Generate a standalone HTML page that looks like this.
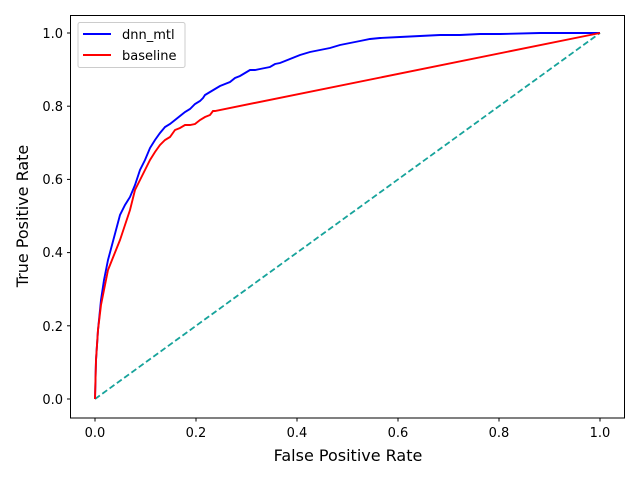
<!DOCTYPE html>
<html><head><style>body{margin:0;background:#fff}svg{display:block}text{font-family:"DejaVu Sans","Liberation Sans",sans-serif;fill:#000}</style></head><body>
<svg width="640" height="480" viewBox="0 0 640 480">
<g stroke="#000" stroke-width="1">
<line x1="95" y1="418" x2="95" y2="421.5"/><line x1="196" y1="418" x2="196" y2="421.5"/><line x1="297" y1="418" x2="297" y2="421.5"/><line x1="398" y1="418" x2="398" y2="421.5"/><line x1="499" y1="418" x2="499" y2="421.5"/><line x1="600" y1="418" x2="600" y2="421.5"/>
<line x1="67" y1="399" x2="70.5" y2="399"/><line x1="67" y1="325.8" x2="70.5" y2="325.8"/><line x1="67" y1="252.6" x2="70.5" y2="252.6"/><line x1="67" y1="179.4" x2="70.5" y2="179.4"/><line x1="67" y1="106.2" x2="70.5" y2="106.2"/><line x1="67" y1="33" x2="70.5" y2="33"/>
</g>
<g font-size="13" text-anchor="middle">
<text x="95" y="437">0.0</text><text x="196" y="437">0.2</text><text x="297" y="437">0.4</text><text x="398" y="437">0.6</text><text x="499" y="437">0.8</text><text x="600" y="437">1.0</text>
</g>
<g font-size="13" text-anchor="end">
<text x="63" y="404">0.0</text><text x="63" y="331">0.2</text><text x="63" y="257">0.4</text><text x="63" y="184">0.6</text><text x="63" y="111">0.8</text><text x="63" y="38">1.0</text>
</g>
<text x="348" y="461" font-size="16" text-anchor="middle">False Positive Rate</text>
<text transform="translate(28,216) rotate(-90)" font-size="16" text-anchor="middle">True Positive Rate</text>
<line x1="95" y1="399" x2="600" y2="33" stroke="#17a39b" stroke-width="1.8" stroke-dasharray="6,3"/>
<polyline fill="none" stroke="#0000ff" stroke-width="1.9" points="95,399 96,360 98,330 101,300 104,280 108,260 112,245 116,230 120,215 125,205 130,197 135,185 140,170 145,160 150,148 155,140 160,133 165,127 170,124 175,120 180,116 185,112 190,109 195,104 200,101 203,98 205,95 210,92 215,89 220,86 225,84 230,82 235,78 240,76 245,73 250,70 255,70 260,69 265,68 270,67 275,64 280,63 285,61 290,59 295,57 300,55 310,52 320,50 330,48 340,45 350,43 360,41 370,39 380,38 400,37 420,36 440,35 460,35 480,34 500,34 540,33 600,33"/>
<polyline fill="none" stroke="#ff0000" stroke-width="1.9" points="95,399 96,360 98,330 101,305 104,290 108,270 112,260 116,250 120,240 125,225 130,210 135,190 140,180 145,170 150,160 155,152 160,145 165,140 170,137 175,130 180,128 185,125 190,125 195,124 200,120 205,117 210,115 213,111 215,111 600,33"/>
<rect x="70.5" y="15.5" width="554" height="402.5" fill="none" stroke="#000" stroke-width="1"/>
<rect x="78" y="22.5" width="107" height="45" rx="2" fill="#fff" stroke="#ccc" stroke-width="1"/>
<line x1="83" y1="34" x2="111" y2="34" stroke="#0000ff" stroke-width="1.9"/>
<line x1="83" y1="55" x2="111" y2="55" stroke="#ff0000" stroke-width="1.9"/>
<text x="122" y="39" font-size="13">dnn_mtl</text>
<text x="122" y="60" font-size="13">baseline</text>
</svg>
</body></html>
